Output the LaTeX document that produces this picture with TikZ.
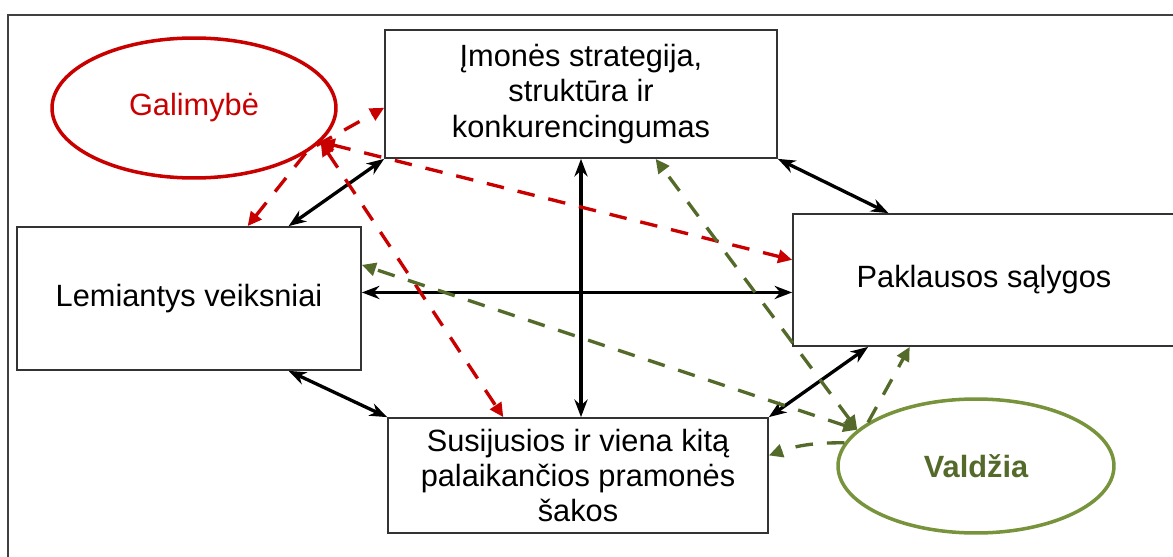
\documentclass[tikz,border=0pt]{standalone}
\usepackage{fontspec}
\setmainfont{Liberation Sans}
\usetikzlibrary{arrows.meta,shapes.geometric}
\definecolor{galred}{RGB}{200,0,0}
\definecolor{valgreen}{RGB}{119,147,60}
\definecolor{valdark}{RGB}{84,106,42}
\def\tekstas{\fontsize{17.5}{20}\selectfont}
\tikzset{
    stl/.tip={Stealth[length=10pt,width=7.5pt]},
    tri/.tip={Triangle[length=8pt,width=7.5pt]},
    langas/.style={draw=black!80, line width=1pt, align=center, inner sep=0pt, font=\tekstas},
    jega/.style={ellipse, line width=2pt, inner sep=0pt, font=\tekstas},
    abipus/.style={stl-stl, line width=1.9pt},
    galryss/.style={draw=galred, line width=1.9pt, dash pattern=on 10pt off 8pt},
    valryss/.style={draw=valdark, line width=1.9pt, dash pattern=on 10pt off 8pt}
}
\newcommand{\veiksnys}[5]{
    \node[langas, minimum width=#3, minimum height=#4] (#1) at (#2) {#5};
}

\begin{document}
\begin{tikzpicture}[x=0.02cm, y=-0.02cm]
    \useasboundingbox (0,0) rectangle (1173,557);
    \clip (0,0) rectangle (1173,557);
    \draw[black!75, line width=1.4pt] (8,15) rectangle (1200,600);
    \veiksnys{imone}{581,94}{7.84cm}{2.56cm}{Įmonės strategija,\\ struktūra ir\\ konkurencingumas}
    \veiksnys{lem}{189,298.5}{6.88cm}{2.86cm}{Lemiantys veiksniai}
    \veiksnys{pak}{984,280}{7.64cm}{2.64cm}{Paklausos sąlygos}
    \veiksnys{sus}{578,475.5}{7.6cm}{2.3cm}{Susijusios ir viena kitą\\ palaikančios pramonės\\ šakos}
    \node[jega, draw=galred, text=galred, minimum width=5.68cm, minimum height=2.8cm] (gal) at (194,108) {Galimybė};
    \node[jega, draw=valgreen, text=valdark, font=\tekstas\bfseries, minimum width=5.52cm, minimum height=2.68cm] (val) at (976,466) {Valdžia};
    \draw[abipus] (imone.south west) -- (lem.36);
    \draw[abipus] (imone.south east) -- (pak.145);
    \draw[abipus] (lem.-36) -- (sus.north west);
    \draw[abipus] (pak.210) -- (sus.north east);
    \draw[abipus] (imone.south) -- (imone.south |- sus.north);
    \draw[abipus] (lem.2) -- (lem.2 -| pak.west);
    \draw[galryss, -tri] (gal.-17) -- (imone.184);
    \draw[galryss, -tri] (gal.-22) -- (lem.51);
    \draw[galryss, tri-tri] (gal.-15) -- (pak.174);
    \draw[galryss, tri-tri] (gal.-15) -- (sus.142);
    \draw[valryss, tri-tri] (val.163) -- (lem.11);
    \draw[valryss, tri-tri] (val.163) -- (imone.-41);
    \draw[valryss, -tri] (val.158) -- (pak.222.5);
    \draw[valryss, -tri] (val.170) to[bend right=10] (sus.6);
\end{tikzpicture}
\end{document}
